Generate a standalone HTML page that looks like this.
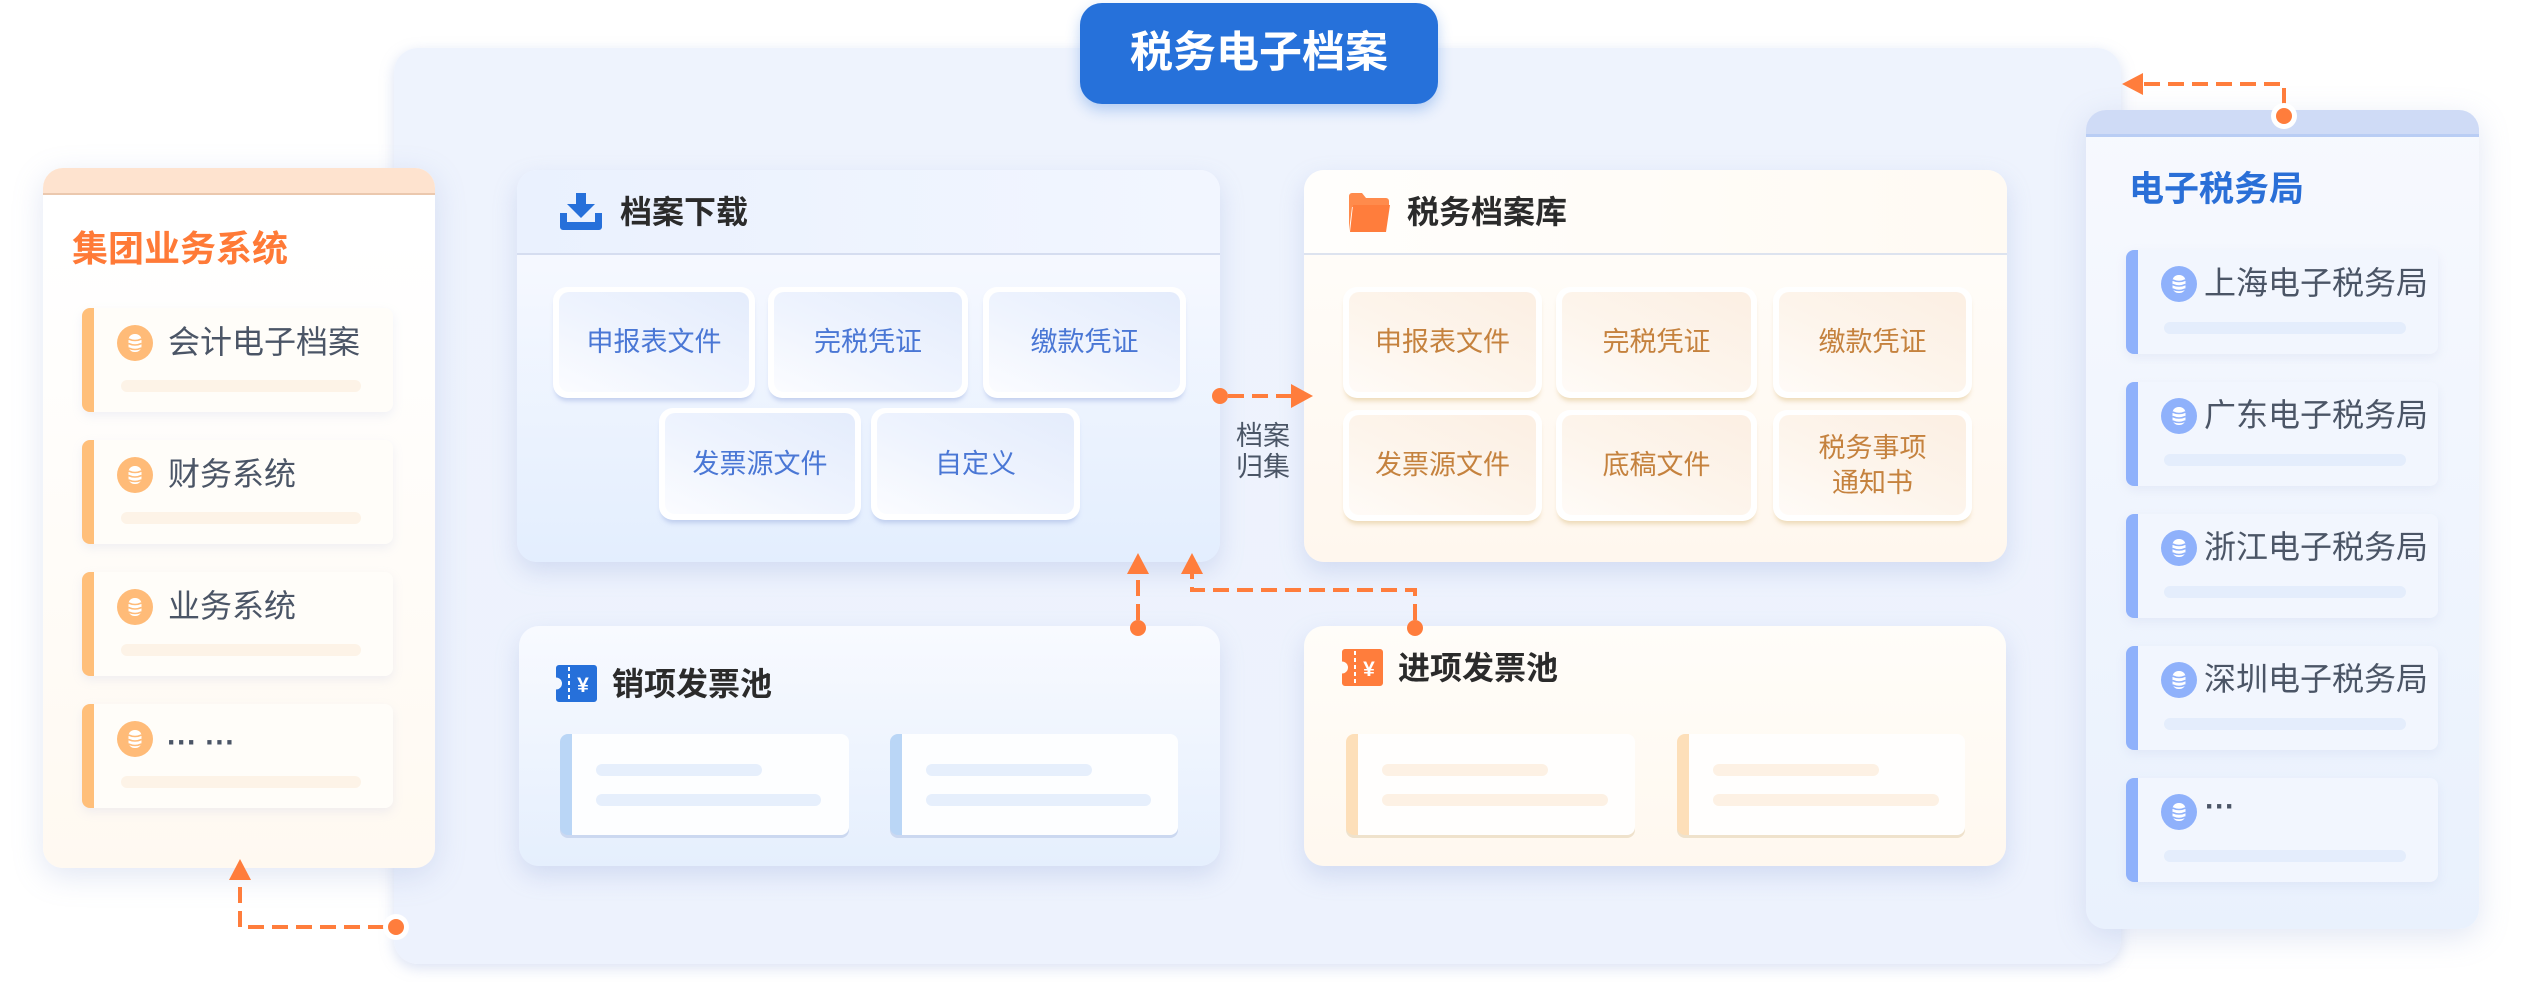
<!DOCTYPE html>
<html><head><meta charset="utf-8">
<style>
*{margin:0;padding:0;box-sizing:border-box}
html,body{width:2522px;height:982px;overflow:hidden;background:#fff}
body{position:relative;font-family:"Liberation Sans","Noto Sans CJK SC",sans-serif}
.a{position:absolute}
.main{left:394px;top:48px;width:1727px;height:916px;border-radius:24px;background:linear-gradient(180deg,#eef3fd,#edf2fd);box-shadow:0 4px 14px rgba(150,170,220,.35)}
.title{left:1080px;top:3px;width:358px;height:101px;border-radius:22px;background:#2671da;box-shadow:0 6px 14px rgba(38,113,218,.3);color:#fff;font-weight:bold;font-size:43px;line-height:101px;text-align:center}
.lp{left:43px;top:168px;width:392px;height:700px;border-radius:20px;overflow:hidden;background:linear-gradient(180deg,#ffffff 10%,#fff9f1);box-shadow:0 8px 30px rgba(140,160,210,.25)}
.lp .hd{position:absolute;left:0;top:0;width:100%;height:27px;background:#fee3cf;border-bottom:2px solid #ebc8ae}
.rp{left:2086px;top:110px;width:393px;height:819px;border-radius:20px;overflow:hidden;background:linear-gradient(180deg,#f7f9fe,#e9f1fd);box-shadow:0 8px 30px rgba(140,160,210,.25)}
.rp .hd{position:absolute;left:0;top:0;width:100%;height:27px;background:#cfdbf6;border-bottom:3px solid #b9cdf4}
.card{border-radius:8px;height:104px;box-shadow:0 4px 10px rgba(170,185,220,.18)}
.lc{left:82px;width:311px;background:#fffdf9;border-left:12px solid #ffbf7a}
.rc{left:2126px;width:312px;background:#f2f6fe;border-left:12px solid #8fb1fb}
.txt{font-size:32px;color:#4b5566;height:44px;line-height:44px;white-space:nowrap}
.ph{height:12px;border-radius:6px}
.panel{border-radius:20px;overflow:hidden;box-shadow:0 10px 24px rgba(140,160,215,.28)}
.dl{left:517px;top:170px;width:703px;height:392px;background:linear-gradient(180deg,#f5f8ff 25%,#e3eefe)}
.dl .hd{position:absolute;left:0;top:0;width:100%;height:85px;background:linear-gradient(90deg,#eaf1fe,#f2f6ff);border-bottom:2px solid #d5ddf0}
.lib{left:1304px;top:170px;width:703px;height:392px;background:linear-gradient(180deg,#fffcf8 25%,#fff7ee)}
.lib .hd{position:absolute;left:0;top:0;width:100%;height:85px;background:linear-gradient(90deg,#fffefc,#fffaf3);border-bottom:2px solid #dde3ef}
.ptitle{font-size:32px;font-weight:bold;color:#2b2b2b;height:44px;line-height:44px;white-space:nowrap}
.chip{border-radius:14px;background:#fff}
.chip .f{position:absolute;left:6px;right:6px;top:5px;bottom:6px;border-radius:10px}
.chip .t{position:absolute;left:0;right:0;top:0;bottom:0;display:flex;align-items:center;justify-content:center;text-align:center;font-size:27px;line-height:35px}
.bc{box-shadow:0 5px 5px -2px rgba(160,178,225,.55)}
.bc .f{background:linear-gradient(205deg,#e4ecfc 0%,#eff4fe 55%,#fbfcff 100%)}
.bc .t{color:#4a77d5}
.oc{box-shadow:0 5px 5px -2px rgba(230,205,160,.7)}
.oc .f{background:linear-gradient(205deg,#fcefe3 0%,#fdf5ec 55%,#fffbf7 100%)}
.oc .t{color:#c5823e}
.sp{left:519px;top:626px;width:701px;height:240px;background:linear-gradient(180deg,#f8faff,#e5effd)}
.ip{left:1304px;top:626px;width:702px;height:240px;background:linear-gradient(180deg,#fffdf9,#fff8ef)}
.ic{border-radius:8px;height:101px;top:734px}
.sc{background:#fdfeff;border-left:12px solid #bad6f6;box-shadow:0 3px 0 #cbd8f0}
.icc{background:#fffefd;border-left:12px solid #fddfb9;box-shadow:0 3px 0 #efe2cc}
</style></head><body>

<div class="a main"></div>

<!-- left panel -->
<div class="a lp"><div class="hd"></div></div>
<div class="a" style="left:72px;top:224px;height:50px;line-height:50px;font-size:36px;font-weight:bold;color:#ff7a37;white-space:nowrap">集团业务系统</div>

<div class="a card lc" style="top:308px"></div>
<div class="a card lc" style="top:440px"></div>
<div class="a card lc" style="top:572px"></div>
<div class="a card lc" style="top:704px"></div>

<div class="a txt" style="left:168px;top:320px">会计电子档案</div>
<div class="a ph" style="left:121px;top:380px;width:240px;background:#fdf3e7"></div>
<div class="a txt" style="left:168px;top:452px">财务系统</div>
<div class="a ph" style="left:121px;top:512px;width:240px;background:#fdf3e7"></div>
<div class="a txt" style="left:168px;top:584px">业务系统</div>
<div class="a ph" style="left:121px;top:644px;width:240px;background:#fdf3e7"></div>
<div class="a txt" style="left:167px;top:721px;font-weight:bold;font-size:30px">··· ···</div>
<div class="a ph" style="left:121px;top:776px;width:240px;background:#fdf3e7"></div>

<!-- right panel -->
<div class="a rp"><div class="hd"></div></div>
<div class="a" style="left:2129px;top:165px;height:50px;line-height:50px;font-size:35px;font-weight:bold;color:#2a6fd7;white-space:nowrap">电子税务局</div>
<div class="a card rc" style="top:250px"></div>
<div class="a card rc" style="top:382px"></div>
<div class="a card rc" style="top:514px"></div>
<div class="a card rc" style="top:646px"></div>
<div class="a card rc" style="top:778px"></div>

<div class="a txt" style="left:2204px;top:261px">上海电子税务局</div>
<div class="a ph" style="left:2164px;top:322px;width:242px;background:#e4edfc"></div>
<div class="a txt" style="left:2204px;top:393px">广东电子税务局</div>
<div class="a ph" style="left:2164px;top:454px;width:242px;background:#e4edfc"></div>
<div class="a txt" style="left:2204px;top:525px">浙江电子税务局</div>
<div class="a ph" style="left:2164px;top:586px;width:242px;background:#e4edfc"></div>
<div class="a txt" style="left:2204px;top:657px">深圳电子税务局</div>
<div class="a ph" style="left:2164px;top:718px;width:242px;background:#e4edfc"></div>
<div class="a txt" style="left:2205px;top:785px;font-weight:bold;font-size:30px">···</div>
<div class="a ph" style="left:2164px;top:850px;width:242px;background:#e4edfc"></div>

<!-- download panel -->
<div class="a panel dl"><div class="hd"></div></div>
<div class="a ptitle" style="left:620px;top:190px">档案下载</div>
<div class="a chip bc" style="left:553px;top:287px;width:202px;height:111px"><div class="f"></div><div class="t">申报表文件</div></div>
<div class="a chip bc" style="left:768px;top:287px;width:200px;height:111px"><div class="f"></div><div class="t">完税凭证</div></div>
<div class="a chip bc" style="left:983px;top:287px;width:203px;height:111px"><div class="f"></div><div class="t">缴款凭证</div></div>
<div class="a chip bc" style="left:659px;top:408px;width:202px;height:112px"><div class="f"></div><div class="t">发票源文件</div></div>
<div class="a chip bc" style="left:871px;top:408px;width:209px;height:112px"><div class="f"></div><div class="t">自定义</div></div>

<!-- library panel -->
<div class="a panel lib"><div class="hd"></div></div>
<div class="a ptitle" style="left:1407px;top:190px">税务档案库</div>
<div class="a chip oc" style="left:1343px;top:287px;width:199px;height:111px"><div class="f"></div><div class="t">申报表文件</div></div>
<div class="a chip oc" style="left:1556px;top:287px;width:201px;height:111px"><div class="f"></div><div class="t">完税凭证</div></div>
<div class="a chip oc" style="left:1773px;top:287px;width:199px;height:111px"><div class="f"></div><div class="t">缴款凭证</div></div>
<div class="a chip oc" style="left:1343px;top:410px;width:199px;height:111px"><div class="f"></div><div class="t">发票源文件</div></div>
<div class="a chip oc" style="left:1556px;top:410px;width:201px;height:111px"><div class="f"></div><div class="t">底稿文件</div></div>
<div class="a chip oc" style="left:1773px;top:410px;width:199px;height:111px"><div class="f"></div><div class="t">税务事项<br>通知书</div></div>

<!-- invoice pools -->
<div class="a panel sp"></div>
<div class="a ptitle" style="left:612px;top:662px">销项发票池</div>
<div class="a ic sc" style="left:560px;width:289px"></div>
<div class="a ic sc" style="left:890px;width:288px"></div>
<div class="a ph" style="left:596px;top:764px;width:166px;background:#e6effc"></div>
<div class="a ph" style="left:596px;top:794px;width:225px;background:#e6effc"></div>
<div class="a ph" style="left:926px;top:764px;width:166px;background:#e6effc"></div>
<div class="a ph" style="left:926px;top:794px;width:225px;background:#e6effc"></div>

<div class="a panel ip"></div>
<div class="a ptitle" style="left:1398px;top:646px">进项发票池</div>
<div class="a ic icc" style="left:1346px;width:289px"></div>
<div class="a ic icc" style="left:1677px;width:288px"></div>
<div class="a ph" style="left:1382px;top:764px;width:166px;background:#fdf1e4"></div>
<div class="a ph" style="left:1382px;top:794px;width:226px;background:#fdf1e4"></div>
<div class="a ph" style="left:1713px;top:764px;width:166px;background:#fdf1e4"></div>
<div class="a ph" style="left:1713px;top:794px;width:226px;background:#fdf1e4"></div>

<!-- archive label -->
<div class="a" style="left:1235px;top:421px;width:56px;font-size:27px;line-height:31px;color:#4a5566;text-align:center">档案<br>归集</div>

<!-- icons + connectors overlay -->
<svg class="a" style="left:0;top:0" width="2522" height="982" viewBox="0 0 2522 982">
<defs>
<g id="dbo">
<circle r="18" fill="#ffbb78"/>
<rect x="-6.5" y="-9" width="13" height="18" rx="6" fill="#fff"/>
<path d="M-6.5,-4 Q0,-1 6.5,-4 M-6.5,0.5 Q0,3.5 6.5,0.5 M-6.5,5 Q0,8 6.5,5" stroke="#ffbb78" stroke-width="1.6" fill="none"/>
</g>
<g id="dbb">
<circle r="18" fill="#8fb1fb"/>
<rect x="-6.5" y="-9" width="13" height="18" rx="6" fill="#fff"/>
<path d="M-6.5,-4 Q0,-1 6.5,-4 M-6.5,0.5 Q0,3.5 6.5,0.5 M-6.5,5 Q0,8 6.5,5" stroke="#8fb1fb" stroke-width="1.6" fill="none"/>
</g>
</defs>
<use href="#dbo" x="135" y="343"/>
<use href="#dbo" x="135" y="475"/>
<use href="#dbo" x="135" y="607"/>
<use href="#dbo" x="135" y="739"/>
<use href="#dbb" x="2179" y="284"/>
<use href="#dbb" x="2179" y="416"/>
<use href="#dbb" x="2179" y="548"/>
<use href="#dbb" x="2179" y="680"/>
<use href="#dbb" x="2179" y="812"/>

<!-- download icon -->
<g transform="translate(560,193)" fill="#2670da">
<rect x="16" y="0" width="10" height="13"/>
<polygon points="7,11 35,11 21,25"/>
<path d="M0,20 H7 V29 H35 V20 H42 V34 a3,3 0 0 1 -3,3 H3 a3,3 0 0 1 -3,-3 Z"/>
</g>
<!-- folder icon -->
<g transform="translate(1349,193)">
<path d="M0,3 a3,3 0 0 1 3,-3 H13 l4,5 H37 a3,3 0 0 1 3,3 V14 H0 Z" fill="#ff8b4c"/>
<path d="M4,12 H41 L37,39 H1 Z" fill="#ff7d3c"/>
<path d="M0,8 V38 L3,14 Z" fill="#ff8b4c"/>
</g>
<!-- ticket icons -->
<g transform="translate(556,665)">
<path d="M3,0 H38 a3,3 0 0 1 3,3 V34 a3,3 0 0 1 -3,3 H3 a3,3 0 0 1 -3,-3 V24.5 A6,6 0 0 0 0,12.5 V3 a3,3 0 0 1 3,-3 Z" fill="#2670da"/>
<line x1="13" y1="2" x2="13" y2="36" stroke="#fff" stroke-width="2" stroke-dasharray="4 3"/>
<text x="27" y="27" font-size="21" font-weight="bold" fill="#fff" text-anchor="middle" font-family="Liberation Sans, sans-serif">¥</text>
</g>
<g transform="translate(1342,649)">
<path d="M3,0 H38 a3,3 0 0 1 3,3 V34 a3,3 0 0 1 -3,3 H3 a3,3 0 0 1 -3,-3 V24.5 A6,6 0 0 0 0,12.5 V3 a3,3 0 0 1 3,-3 Z" fill="#ff7d3c"/>
<line x1="13" y1="2" x2="13" y2="36" stroke="#fff" stroke-width="2" stroke-dasharray="4 3"/>
<text x="27" y="27" font-size="21" font-weight="bold" fill="#fff" text-anchor="middle" font-family="Liberation Sans, sans-serif">¥</text>
</g>

<g stroke="#ff7d3c" stroke-width="4" fill="none" stroke-dasharray="16 8">
<line x1="1228" y1="396" x2="1292" y2="396"/>
<path d="M1138,620 V573"/>
<path d="M1415,620 V590 H1192 V573"/>
<path d="M2284,104 V84 H2142"/>
<path d="M384,927 H240 V880"/>
</g>
<g fill="#ff7d3c">
<polygon points="1291,384 1313,396 1291,408"/>
<polygon points="1127,574 1138,553 1149,574"/>
<polygon points="1181,574 1192,553 1203,574"/>
<polygon points="2143,73 2122,84 2143,95"/>
<polygon points="229,880 240,859 251,880"/>
<circle cx="1220" cy="396" r="8"/>
<circle cx="1138" cy="628" r="8"/>
<circle cx="1415" cy="628" r="8"/>
<circle cx="2284" cy="116" r="13" fill="#fff"/>
<circle cx="2284" cy="116" r="8"/>
<circle cx="396" cy="927" r="13" fill="#fff"/>
<circle cx="396" cy="927" r="8"/>
</g>
</svg>

<div class="a title">税务电子档案</div>
</body></html>
